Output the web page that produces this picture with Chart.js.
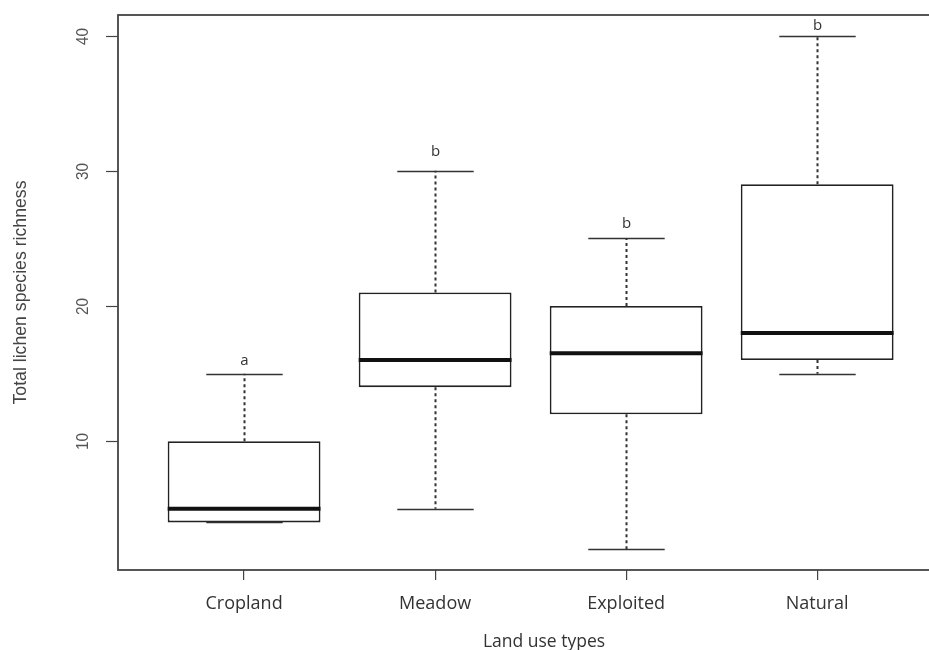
<!DOCTYPE html>
<html>
<head>
<meta charset="utf-8">
<script src="https://cdn.jsdelivr.net/npm/chart.js@4.4.1/dist/chart.umd.min.js"></script>
<style>
  html, body { margin: 0; padding: 0; background: #fff; overflow: hidden; }
  #wrap { width: 990px; height: 650px; }
</style>
</head>
<body>
<div id="wrap"><canvas id="boxChart" width="990" height="650"></canvas></div>
<script>
// Boxplot summary per land use type
const categories = ['Cropland', 'Meadow', 'Exploited', 'Natural'];
const minVals    = [4, 5, 2, 15];
const q1Vals     = [4, 14, 12, 16];
const medianVals = [5, 16, 16.5, 18];
const q3Vals     = [10, 21, 20, 29];
const maxVals    = [15, 30, 25, 40];

// significance letters and the height they sit at
const letters   = ['a', 'b', 'b', 'b'];
const letterPos = [15.95, 31.4, 26.1, 40.7];

const yTicks = [10, 20, 30, 40];

const boxData = categories.map((c, i) => ({ x: i + 1, y: [q1Vals[i], q3Vals[i]] }));

// narrow sans like R's default device font
function narrowText(ctx, text, x, y, size, squeeze) {
  ctx.save();
  ctx.translate(x, y);
  ctx.rotate(-Math.PI / 2);
  ctx.scale(squeeze, 1);
  ctx.font = size + 'px "Liberation Sans"';
  ctx.textAlign = 'center';
  ctx.textBaseline = 'middle';
  ctx.fillText(text, 0, 0);
  ctx.restore();
}

// whiskers, medians, frame and the rotated y axis, R style
const boxExtras = {
  id: 'boxExtras',
  afterDatasetsDraw(chart) {
    const ctx = chart.ctx;
    const y = chart.scales.y;
    const meta = chart.getDatasetMeta(0);
    ctx.save();
    meta.data.forEach((bar, i) => {
      const p = bar.getProps(['x', 'width'], true);
      const cx = Math.round(p.x) + 0.5, half = p.width / 2, cap = p.width / 4;

      // dashed whiskers
      ctx.strokeStyle = '#333';
      ctx.lineWidth = 2;
      ctx.setLineDash([3, 3]);
      ctx.beginPath();
      ctx.moveTo(cx, y.getPixelForValue(q3Vals[i]));
      ctx.lineTo(cx, y.getPixelForValue(maxVals[i]));
      ctx.moveTo(cx, y.getPixelForValue(q1Vals[i]));
      ctx.lineTo(cx, y.getPixelForValue(minVals[i]));
      ctx.stroke();

      // caps
      ctx.setLineDash([]);
      ctx.lineWidth = 1.6;
      ctx.beginPath();
      [maxVals[i], minVals[i]].forEach(v => {
        const py = Math.round(y.getPixelForValue(v)) + 0.5;
        ctx.moveTo(cx - cap, py);
        ctx.lineTo(cx + cap, py);
      });
      ctx.stroke();

      // median
      ctx.strokeStyle = '#111';
      ctx.lineWidth = 4;
      ctx.beginPath();
      const my = y.getPixelForValue(medianVals[i]);
      ctx.moveTo(p.x - half, my);
      ctx.lineTo(p.x + half, my);
      ctx.stroke();

      // letters
      ctx.fillStyle = '#333';
      ctx.font = '15px "Open Sans"';
      ctx.textAlign = 'center';
      ctx.textBaseline = 'middle';
      ctx.fillText(letters[i], cx, y.getPixelForValue(letterPos[i]));
    });

    // frame
    const a = chart.chartArea;
    ctx.strokeStyle = '#444';
    ctx.lineWidth = 1.8;
    ctx.strokeRect(a.left, a.top, a.right - a.left, a.bottom - a.top);

    // y ticks, labels rotated like R's las = 0
    ctx.strokeStyle = '#444';
    ctx.lineWidth = 1.2;
    ctx.fillStyle = '#555';
    y.ticks.forEach(t => {
      const py = Math.round(y.getPixelForValue(t.value)) + 0.5;
      ctx.beginPath();
      ctx.moveTo(a.left - 12, py);
      ctx.lineTo(a.left, py);
      ctx.stroke();
      narrowText(ctx, String(t.value), 83, py, 17, 0.9);
    });

    ctx.fillStyle = '#444';
    narrowText(ctx, 'Total lichen species richness', 21, (a.top + a.bottom) / 2, 19, 0.93);
    ctx.restore();
  }
};

const ctx = document.getElementById('boxChart').getContext('2d');
const chart = new Chart(ctx, {
  type: 'bar',
  data: {
    datasets: [{
      data: boxData,
      backgroundColor: '#ffffff',
      borderColor: '#222',
      borderWidth: 1.8,
      borderSkipped: false,
      barPercentage: 0.8,
      categoryPercentage: 1
    }]
  },
  options: {
    responsive: false,
    animation: false,
    layout: { padding: { top: 15, right: 20, left: 0, bottom: 0 } },
    plugins: { legend: { display: false }, tooltip: { enabled: false } },
    scales: {
      x: {
        type: 'linear',
        min: 0.34,
        max: 4.8,
        offset: false,
        afterBuildTicks: s => { s.ticks = categories.map((c, i) => ({ value: i + 1 })); },
        afterFit: s => { s.height = 80; },
        ticks: {
          callback: v => categories[v - 1],
          color: '#333',
          font: { family: 'Open Sans', size: 18 },
          padding: 13,
          maxRotation: 0,
          autoSkip: false
        },
        grid: { offset: false, drawOnChartArea: false, drawTicks: true, tickLength: 10, color: '#444', lineWidth: 1.2 },
        border: { display: false },
        title: {
          display: true,
          text: 'Land use types',
          color: '#333',
          font: { family: 'Open Sans', size: 17.5 },
          padding: { top: 0, bottom: -2.5 }
        }
      },
      y: {
        min: 0.48,
        max: 41.52,
        afterBuildTicks: s => { s.ticks = yTicks.map(v => ({ value: v })); },
        afterFit: s => { s.width = 118; },
        ticks: { display: false },
        grid: { display: false },
        border: { display: false }
      }
    }
  },
  plugins: [boxExtras]
});
</script>
</body>
</html>
